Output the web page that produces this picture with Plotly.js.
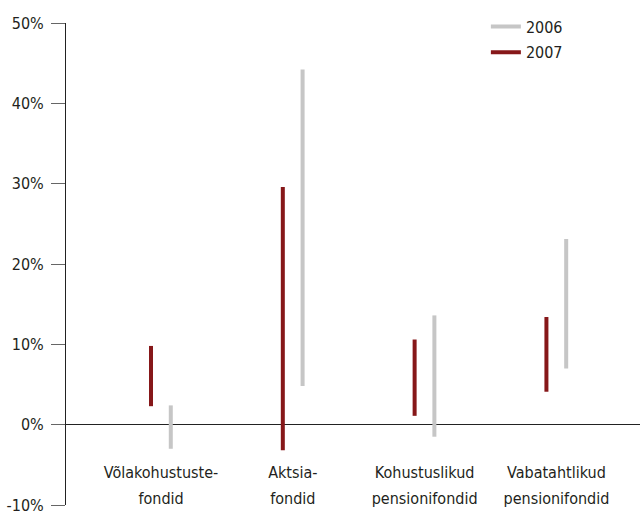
<!DOCTYPE html>
<html>
<head>
<meta charset="utf-8">
<script src="https://cdn.plot.ly/plotly-3.0.1.min.js"></script>
<style>html,body{margin:0;padding:0;background:#fff;}#chart{width:640px;height:511px;}</style>
</head>
<body>
<div id="chart"></div>
<script>
const catLine1 = ['Võlakohustuste-', 'Aktsia-', 'Kohustuslikud', 'Vabatahtlikud'];
const catLine2 = ['fondid', 'fondid', 'pensionifondid', 'pensionifondid'];
const low2006 = [-3.0, 4.8, -1.5, 7.0];
const high2006 = [2.4, 44.2, 13.6, 23.1];
const low2007 = [2.3, -3.2, 1.1, 4.1];
const high2007 = [9.8, 29.6, 10.6, 13.4];
const yTicks = [-10, 0, 10, 20, 30, 40, 50];
const yTickText = yTicks.map(v => v + '%');

const FONT = '"DejaVu Sans Condensed", "DejaVu Sans", sans-serif';
const FS = 16;
const TXT = '#231f20';

function rangeTrace(name, lows, highs, offset, color) {
  const x = [], y = [];
  lows.forEach((lo, i) => {
    x.push(i + offset, i + offset, null);
    y.push(lo, highs[i], null);
  });
  return {type: 'scatter', mode: 'lines', name: name, legendgroup: name, x: x, y: y,
          line: {color: color, width: 4}, hoverinfo: 'skip'};
}

const xRange = [-0.721, 3.634];
const catIdx = catLine1.map((c, i) => i);

const traces = [
  rangeTrace('2006', low2006, high2006, 0.074, '#c6c6c6'),
  rangeTrace('2007', low2007, high2007, -0.076, '#861719'),
  // empty helper trace so the second-line category axis is drawn
  {type: 'scatter', mode: 'lines', x: [], y: [], xaxis: 'x2', yaxis: 'y',
   showlegend: false, hoverinfo: 'skip'}
];

const layout = {
  width: 640, height: 511,
  margin: {l: 66, r: 0, t: 23, b: 6, pad: 0},
  paper_bgcolor: '#fff', plot_bgcolor: '#fff',
  font: {family: FONT, size: FS, color: TXT},
  showlegend: true,
  legend: {x: 0.7315, y: 1.028, xanchor: 'left', yanchor: 'top',
           font: {family: FONT, size: FS, color: TXT}, bgcolor: 'rgba(0,0,0,0)',
           tracegroupgap: 2},
  xaxis: {
    range: xRange, showgrid: false, zeroline: false, showline: false,
    tickvals: catIdx, ticktext: catLine1,
    ticks: '', anchor: 'free', position: 1/6, ticklabelstandoff: 36,
    ticklabeloverflow: 'allow',
    tickfont: {family: FONT, size: FS, color: TXT}
  },
  xaxis2: {
    range: xRange, overlaying: 'x', showgrid: false, zeroline: false, showline: false,
    tickvals: catIdx, ticktext: catLine2, side: 'bottom',
    ticks: '', anchor: 'free', position: 1/6, ticklabelstandoff: 62,
    ticklabeloverflow: 'allow',
    tickfont: {family: FONT, size: FS, color: TXT}
  },
  yaxis: {
    range: [-10, 50], tickvals: yTicks, ticktext: yTickText,
    showgrid: false, showline: true, linecolor: '#222', linewidth: 1,
    zeroline: true, zerolinecolor: '#222', zerolinewidth: 1,
    ticks: 'outside', ticklen: 14, tickcolor: '#666', tickwidth: 1,
    ticklabelstandoff: 4, ticklabeloverflow: 'allow',
    tickfont: {family: FONT, size: FS, color: TXT}
  }
};

Plotly.newPlot('chart', traces, layout, {displayModeBar: false, staticPlot: true});
</script>
</body>
</html>
